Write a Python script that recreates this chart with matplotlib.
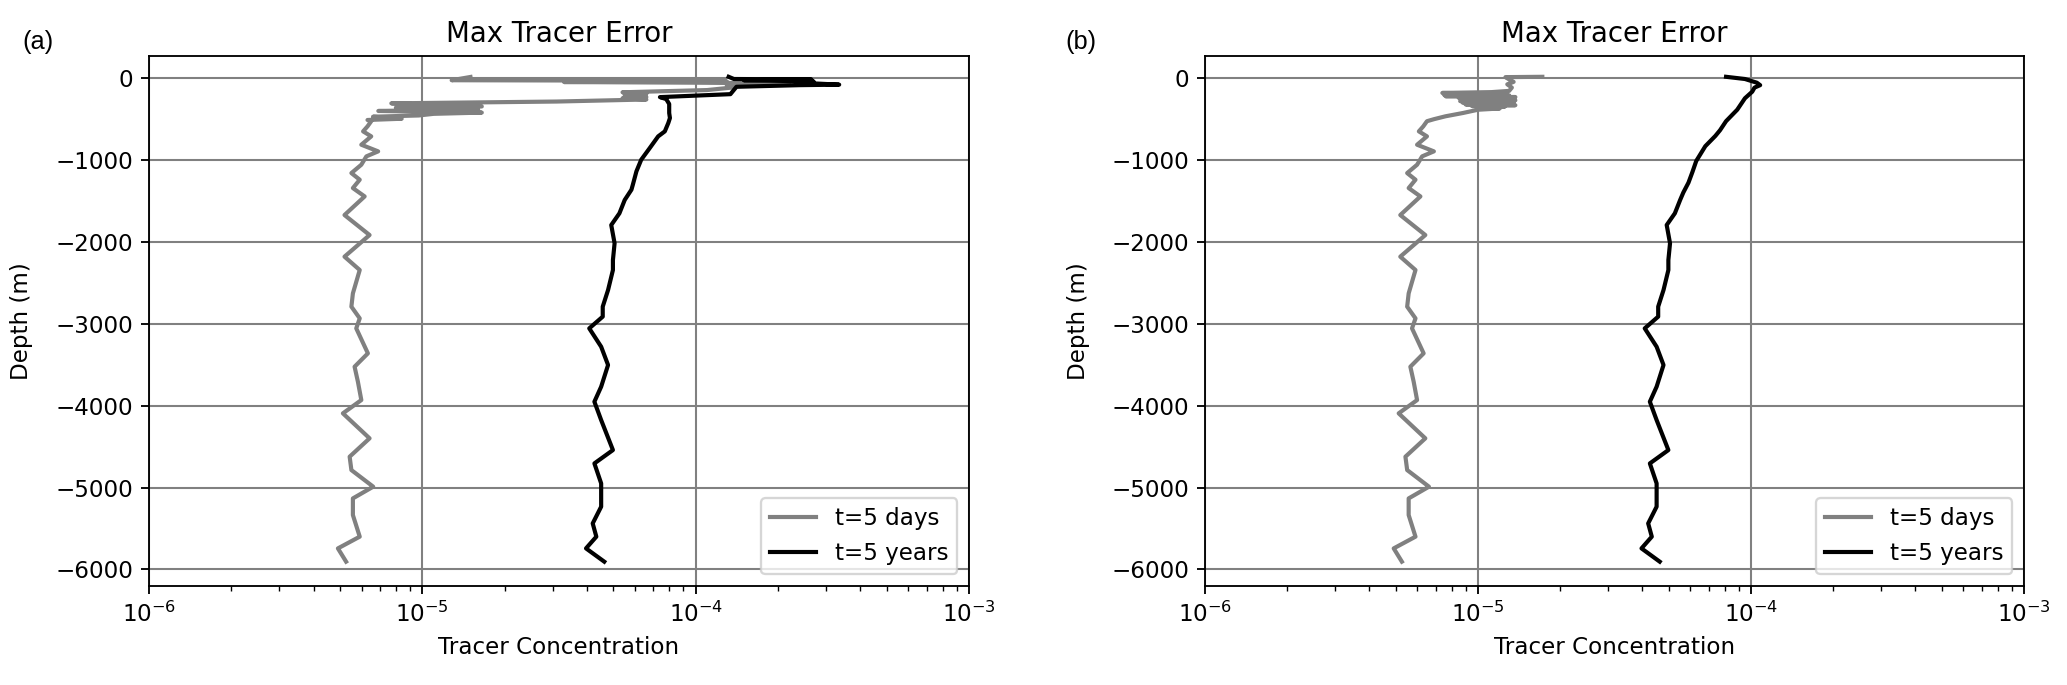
"""
plot.py
-------
Max tracer error vs depth, two panels (a) and (b), each with a
t=5 days and a t=5 years profile on a log concentration axis.

Saves out.png (2067x685).
"""

import matplotlib

matplotlib.use("Agg")  # no display
import matplotlib.pyplot as plt
import numpy as np

DPI = 166
FIGSIZE = (2067 / DPI, 685 / DPI)

XLIM = (1e-6, 1e-3)
YLIM = (-6198, 267)
SERIES_LABELS = ["t=5 days", "t=5 years"]
PANEL_TAGS = ["(a)", "(b)"]

# below ~500 m (days) / ~1500 m (years) both panels show the same profile
days_deep_depth = [-530, -593, -654, -715, -817, -898, -959, -1061, -1163, -1244,
                   -1346, -1448, -1675, -1919, -2183, -2346, -2631, -2793, -2936,
                   -3058, -3363, -3526, -3709, -3933, -4095, -4400, -4624, -4787,
                   -4990, -5133, -5336, -5600, -5743, -5905]
days_deep_err = [6.5e-6, 6.3e-6, 6.07e-6, 6.5e-6, 5.98e-6, 6.89e-6, 6.24e-6, 5.98e-6,
                 5.5e-6, 5.9e-6, 5.57e-6, 6.15e-6, 5.19e-6, 6.41e-6, 5.19e-6, 5.9e-6,
                 5.57e-6, 5.5e-6, 5.9e-6, 5.73e-6, 6.32e-6, 5.65e-6, 5.81e-6, 5.98e-6,
                 5.12e-6, 6.41e-6, 5.42e-6, 5.5e-6, 6.61e-6, 5.57e-6, 5.57e-6, 5.9e-6,
                 4.91e-6, 5.26e-6]

years_deep_depth = [-1491, -1654, -1797, -2020, -2224, -2346, -2590, -2793, -2915,
                    -3058, -3282, -3505, -3770, -3953, -4177, -4543, -4706, -4950,
                    -5234, -5438, -5600, -5743, -5905]
years_deep_err = [5.5e-5, 5.26e-5, 4.91e-5, 5.05e-5, 4.98e-5, 4.98e-5, 4.78e-5, 4.57e-5,
                  4.57e-5, 4.08e-5, 4.51e-5, 4.78e-5, 4.51e-5, 4.26e-5, 4.51e-5, 4.98e-5,
                  4.26e-5, 4.51e-5, 4.51e-5, 4.2e-5, 4.33e-5, 3.97e-5, 4.63e-5]

# upper ocean, panel (a)
a_days_depth = [10, -30, -33, -38, -45, -52, -60, -68, -80, -95, -115, -150, -177,
                -195, -210, -235, -250, -265, -290, -312, -350, -365, -385, -405,
                -425, -440, -460, -475, -500, -515]
a_days_err = [1.5e-5, 1.28e-5, 3.3e-5, 7.6e-5, 1.3e-4, 3.3e-5, 9.8e-5, 2.2e-4, 1.9e-4,
              1.3e-4, 1.4e-4, 1.1e-4, 5.4e-5, 6.6e-5, 5.5e-5, 6.6e-5, 5.4e-5, 6.6e-5,
              3.1e-5, 7.7e-6, 1.65e-5, 8.0e-6, 1.6e-5, 6.9e-6, 1.65e-5, 1.1e-5, 9.7e-6,
              6.6e-6, 8.4e-6, 6.3e-6]

a_years_depth = [12, -15, -20, -30, -45, -60, -84, -90, -110, -200, -236, -260, -320,
                 -430, -491, -552, -654, -715, -858, -1000, -1142, -1305, -1366]
a_years_err = [1.32e-4, 1.38e-4, 2.65e-4, 1.5e-4, 2.7e-4, 2.4e-4, 3.35e-4, 2.4e-4,
               1.41e-4, 1.34e-4, 7.4e-5, 7.8e-5, 8.0e-5, 8.0e-5, 8.05e-5, 7.94e-5,
               7.71e-5, 7.29e-5, 6.79e-5, 6.32e-5, 6.07e-5, 5.89e-5, 5.82e-5]

# upper ocean, panel (b)
b_days_depth = [12, 8, -20, -50, -80, -120, -160, -175, -185, -195, -205, -215, -225,
                -235, -245, -255, -265, -275, -285, -295, -305, -315, -325, -335,
                -345, -355, -365, -375, -390, -430, -470, -505]
b_days_err = [1.72e-5, 1.26e-5, 1.3e-5, 1.35e-5, 1.28e-5, 1.33e-5, 1.3e-5, 1.12e-5,
              7.4e-6, 1.2e-5, 7.5e-6, 1.3e-5, 7.6e-6, 1.37e-5, 8.5e-6, 1.3e-5, 8.8e-6,
              1.37e-5, 8.6e-6, 1.35e-5, 8.8e-6, 1.3e-5, 9.0e-6, 1.37e-5, 9.5e-6,
              1.25e-5, 1.05e-5, 1.2e-5, 1.0e-5, 8.8e-6, 7.6e-6, 6.9e-6]

b_years_depth = [12, -15, -60, -90, -120, -170, -250, -390, -530, -640, -710, -835,
                 -1015, -1150, -1280, -1400]
b_years_err = [8.1e-5, 9.5e-5, 1.05e-4, 1.08e-4, 1.03e-4, 1.01e-4, 9.5e-5, 8.9e-5,
               8.1e-5, 7.7e-5, 7.4e-5, 6.8e-5, 6.3e-5, 6.1e-5, 5.9e-5, 5.65e-5]


def plot_panel(ax, days_depth, days_err, years_depth, years_err):
    days_z = np.concatenate([days_depth, days_deep_depth])
    days_c = np.concatenate([days_err, days_deep_err])
    years_z = np.concatenate([years_depth, years_deep_depth])
    years_c = np.concatenate([years_err, years_deep_err])

    ax.plot(days_c, days_z, color="gray", linewidth=1.8, label=SERIES_LABELS[0])
    ax.plot(years_c, years_z, color="black", linewidth=1.8, label=SERIES_LABELS[1])
    ax.set_xscale("log")
    ax.set_xlim(*XLIM)
    ax.set_ylim(*YLIM)
    ax.grid(True, color="gray", linewidth=0.9)
    ax.set_title("Max Tracer Error")
    ax.set_xlabel("Tracer Concentration")
    ax.set_ylabel("Depth (m)")
    ax.yaxis.set_label_coords(-0.141, 0.5)
    ax.legend(loc="lower right")


fig = plt.figure(figsize=FIGSIZE, dpi=DPI)
ax_a = fig.add_axes([0.0721, 0.1450, 0.3967, 0.7734])
ax_b = fig.add_axes([0.5830, 0.1450, 0.3962, 0.7734])

plot_panel(ax_a, a_days_depth, a_days_err, a_years_depth, a_years_err)
plot_panel(ax_b, b_days_depth, b_days_err, b_years_depth, b_years_err)

for x, tag in zip([0.011, 0.5152], PANEL_TAGS):
    fig.text(x, 0.9394, tag, family="Liberation Sans", fontsize=11, va="center")

fig.savefig("out.png", dpi=DPI)
plt.close(fig)
